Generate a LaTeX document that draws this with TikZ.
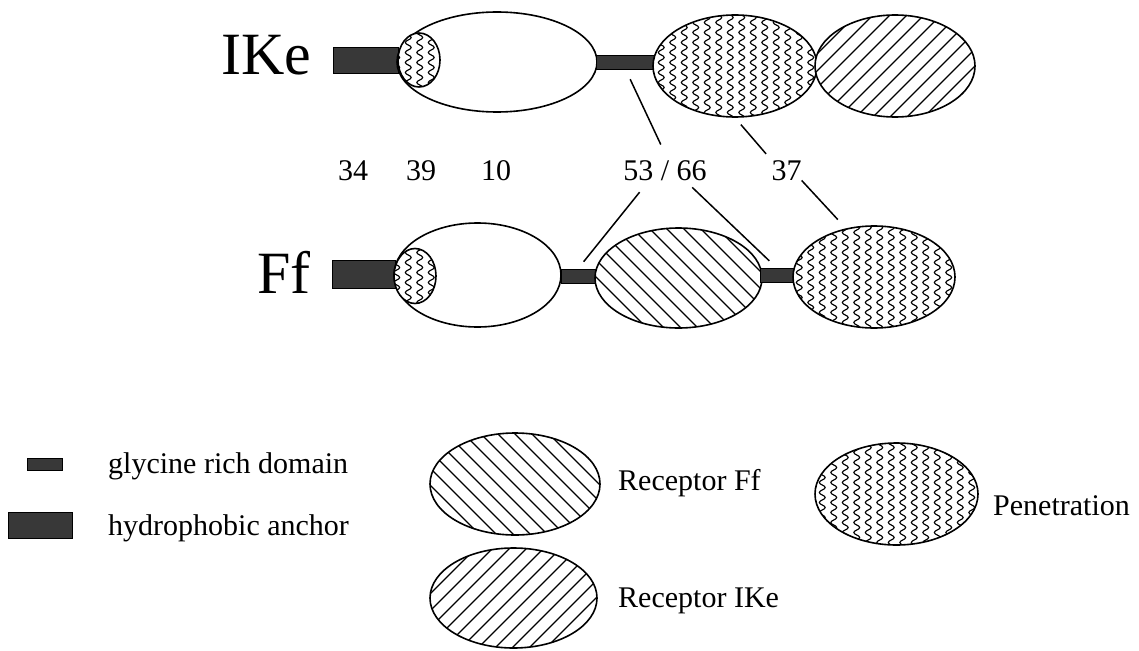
\documentclass[tikz,border=0pt]{standalone}
\usepackage{fontspec}
\setmainfont{Liberation Serif}
\usetikzlibrary{shapes.geometric,patterns}

% wavy fill for the penetration domain
\pgfdeclarepatternformonly{waves}{\pgfqpoint{0pt}{-1pt}}{\pgfqpoint{11.5pt}{11pt}}{\pgfqpoint{11.5pt}{10pt}}{%
  \pgfsetlinewidth{1.15pt}
  \pgfpathmoveto{\pgfqpoint{5.75pt}{0pt}}
  \pgfpathcurveto{\pgfqpoint{9.6pt}{1.6pt}}{\pgfqpoint{9.6pt}{3.4pt}}{\pgfqpoint{5.75pt}{5pt}}
  \pgfpathcurveto{\pgfqpoint{1.9pt}{6.6pt}}{\pgfqpoint{1.9pt}{8.4pt}}{\pgfqpoint{5.75pt}{10pt}}
  \pgfusepath{stroke}}
% wide hatches for the two receptor domains
\pgfdeclarepatternformonly{wide north east lines}{\pgfqpoint{-1pt}{-1pt}}{\pgfqpoint{18pt}{18pt}}{\pgfqpoint{17pt}{17pt}}{%
  \pgfsetlinewidth{1.2pt}
  \pgfpathmoveto{\pgfqpoint{0pt}{0pt}}
  \pgfpathlineto{\pgfqpoint{17.1pt}{17.1pt}}
  \pgfusepath{stroke}}
\pgfdeclarepatternformonly{wide north west lines}{\pgfqpoint{-1pt}{-1pt}}{\pgfqpoint{18pt}{18pt}}{\pgfqpoint{17pt}{17pt}}{%
  \pgfsetlinewidth{1.2pt}
  \pgfpathmoveto{\pgfqpoint{0pt}{17pt}}
  \pgfpathlineto{\pgfqpoint{17.1pt}{-0.1pt}}
  \pgfusepath{stroke}}

\begin{document}
\begin{tikzpicture}[
      x=1pt, y=-1pt,
      part/.style={
          ellipse,
          draw,
          line width=1.6pt,
          inner sep=0pt
        },
      core/.style={part, fill=white},
      penetr/.style={part, preaction={fill=white}, pattern=waves},
      recff/.style={part, preaction={fill=white}, pattern=wide north west lines},
      recike/.style={part, preaction={fill=white}, pattern=wide north east lines},
      bar/.style={
          rectangle,
          draw=black,
          fill=black!78,
          line width=0.6pt,
          inner sep=0pt
        },
      bigtxt/.style={font=\fontsize{60}{60}\selectfont, inner sep=0pt, anchor=base west},
      numtxt/.style={font=\fontsize{30}{34}\selectfont, inner sep=0pt, anchor=base},
      keytxt/.style={font=\fontsize{30}{34}\selectfont, inner sep=0pt, anchor=base west},
      link/.style={line width=1.5pt}
    ]
    \useasboundingbox (0,0) rectangle (1139,650);

    % IKe protein
    \node[bigtxt] (ikeName) at (221,75) {IKe};
    \node[bar, minimum width=65pt, minimum height=26pt] (ikeAnchor) at (365.5,60) {};
    \node[core, minimum width=200pt, minimum height=100pt] (ikeCore) at (497,62) {};
    \node[penetr, minimum width=42pt, minimum height=54pt] (ikeCap) at (419,60) {};
    \node[bar, minimum width=59pt, minimum height=14pt] (ikeGly) at (625.5,62) {};
    \node[penetr, minimum width=164pt, minimum height=102pt] (ikePen) at (735,66) {};
    \node[recike, minimum width=160pt, minimum height=102pt] (ikeRec) at (895,66) {};

    % Ff protein
    \node[bigtxt] (ffName) at (257,293) {Ff};
    \node[bar, minimum width=63pt, minimum height=28pt] (ffAnchor) at (363.5,274) {};
    \node[core, minimum width=167pt, minimum height=104pt] (ffCore) at (477.5,275) {};
    \node[penetr, minimum width=42pt, minimum height=55pt] (ffCap) at (415,276) {};
    \node[bar, minimum width=34pt, minimum height=14pt] (ffGlyA) at (578,276) {};
    \node[recff, minimum width=167pt, minimum height=100pt] (ffRec) at (678.5,278) {};
    \node[bar, minimum width=33pt, minimum height=14pt] (ffGlyB) at (776.5,275) {};
    \node[penetr, minimum width=162pt, minimum height=102pt] (ffPen) at (874,277) {};

    % identities
    \node[numtxt] (num34) at (353,180) {34};
    \node[numtxt] (num39) at (421,180) {39};
    \node[numtxt] (num10) at (496,180) {10};
    \node[numtxt] (num5366) at (665,180) {53 / 66};
    \node[numtxt] (num37) at (786.5,180) {37};

    \draw[link, shorten <=11pt, shorten >=17pt] (ikeGly.south) -- ([xshift=3pt]num5366.north);
    \draw[link, shorten <=15pt, shorten >=9pt] ([xshift=-16pt]num5366.south) -- (ffGlyA.north);
    \draw[link, shorten <=10pt, shorten >=10pt] ([xshift=20pt]num5366.south) -- (ffGlyB.north);
    \draw[link, shorten <=9pt, shorten >=8pt] (ikePen.south) -- (num37.north west);
    \draw[link, shorten >=12pt] (num37.south east) -- (ffPen.120);

    % key
    \node[bar, minimum width=35pt, minimum height=12pt] (keyGly) at (44.5,464) {};
    \node[keytxt] (keyGlyTxt) at (108,473) {glycine rich domain};
    \node[bar, minimum width=64pt, minimum height=26pt] (keyAnchor) at (40,525) {};
    \node[keytxt] (keyAnchorTxt) at (108,535) {hydrophobic anchor};
    \node[recff, minimum width=170pt, minimum height=102pt] (keyRecFf) at (515,484) {};
    \node[keytxt] (keyRecFfTxt) at (618,490) {Receptor Ff};
    \node[recike, minimum width=167pt, minimum height=100pt] (keyRecIKe) at (513.5,598) {};
    \node[keytxt] (keyRecIKeTxt) at (618,607) {Receptor IKe};
    \node[penetr, minimum width=163pt, minimum height=102pt] (keyPen) at (896.5,494) {};
    \node[keytxt] (keyPenTxt) at (993,515) {Penetration};
  \end{tikzpicture}
\end{document}
